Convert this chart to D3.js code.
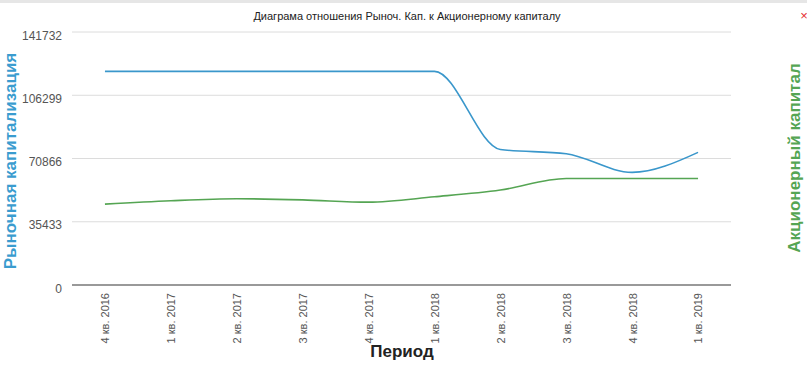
<!DOCTYPE html>
<html><head><meta charset="utf-8">
<script src="https://cdn.jsdelivr.net/npm/d3@7"></script>
<style>body{margin:0;background:#fff;font-family:"Liberation Sans",Arial,sans-serif;}</style>
</head><body><svg id="c" width="807" height="392"></svg>
<script>
const categories = ["4 кв. 2016","1 кв. 2017","2 кв. 2017","3 кв. 2017","4 кв. 2017","1 кв. 2018","2 кв. 2018","3 кв. 2018","4 кв. 2018","1 кв. 2019"];
const marketCap = [119700,119700,119700,119700,119700,119700,75900,73500,63100,74300];
const equity = [45300,47200,48300,47700,46400,49400,53200,59700,59700,59700];
const yTicks = [0,35433,70866,106299,141732];
const title = "Диаграма отношения Рыноч. Кап. к Акционерному капиталу";

const svg = d3.select("#c");
const L=72, R=731, T=32, B=285;
svg.append("rect").attr("x",0).attr("y",0).attr("width",807).attr("height",3).attr("fill","#e6e6e6");

const x = d3.scalePoint().domain(categories).range([L,R]).padding(0.5);
const y = d3.scaleLinear().domain([0,141732]).range([B,T]);

// grid
svg.append("g").selectAll("line").data(yTicks.slice(1)).join("line")
  .attr("x1",L).attr("x2",R).attr("y1",d=>y(d)).attr("y2",d=>y(d))
  .attr("stroke","#dcdcdc").attr("stroke-width",1);

// y axis labels
const ya = svg.append("g").attr("transform",`translate(${L},0)`)
  .call(d3.axisLeft(y).tickValues(yTicks).tickSize(0).tickPadding(10).tickFormat(d3.format("d")));
ya.select(".domain").remove();
ya.selectAll("text").attr("font-size",12).attr("fill","#555").attr("dy","0.6em")
  .attr("font-family","Liberation Sans, Arial, sans-serif");

// x axis
const xa = svg.append("g").attr("transform",`translate(0,${B})`)
  .call(d3.axisBottom(x).tickSize(0).tickPadding(0));
xa.select(".domain").attr("stroke","#777").attr("stroke-width",1.5).attr("d",`M${L},0H${R}`);
xa.selectAll("text").attr("font-size",11).attr("fill","#555")
  .attr("font-family","Liberation Sans, Arial, sans-serif")
  .attr("transform","rotate(-90)").attr("text-anchor","end")
  .attr("x",-8).attr("y",0).attr("dy","0.35em");

// lines
const line = d3.line().x((d,i)=>x(categories[i])).y(d=>y(d)).curve(d3.curveMonotoneX);
svg.append("path").attr("d",line(equity)).attr("fill","none").attr("stroke","#55a553").attr("stroke-width",1.6);
svg.append("path").attr("d",line(marketCap)).attr("fill","none").attr("stroke","#3a97cb").attr("stroke-width",1.6);

// titles
svg.append("text").attr("x",407).attr("y",20).attr("text-anchor","middle").attr("font-size",11).attr("fill","#222").text(title);
svg.append("text").attr("x",804).attr("y",20).attr("text-anchor","middle").attr("font-size",13).attr("fill","#e53030").text("×");
svg.append("text").attr("transform","translate(16,161) rotate(-90)").attr("text-anchor","middle")
  .attr("font-size",17).attr("font-weight","bold").attr("fill","#3a9ccf").text("Рыночная капитализация");
svg.append("text").attr("transform","translate(800,158) rotate(-90)").attr("text-anchor","middle")
  .attr("font-size",17).attr("font-weight","bold").attr("fill","#55a553").text("Акционерный капитал");
svg.append("text").attr("x",402).attr("y",357).attr("text-anchor","middle")
  .attr("font-size",17).attr("font-weight","bold").attr("fill","#222").text("Период");
</script></body></html>
